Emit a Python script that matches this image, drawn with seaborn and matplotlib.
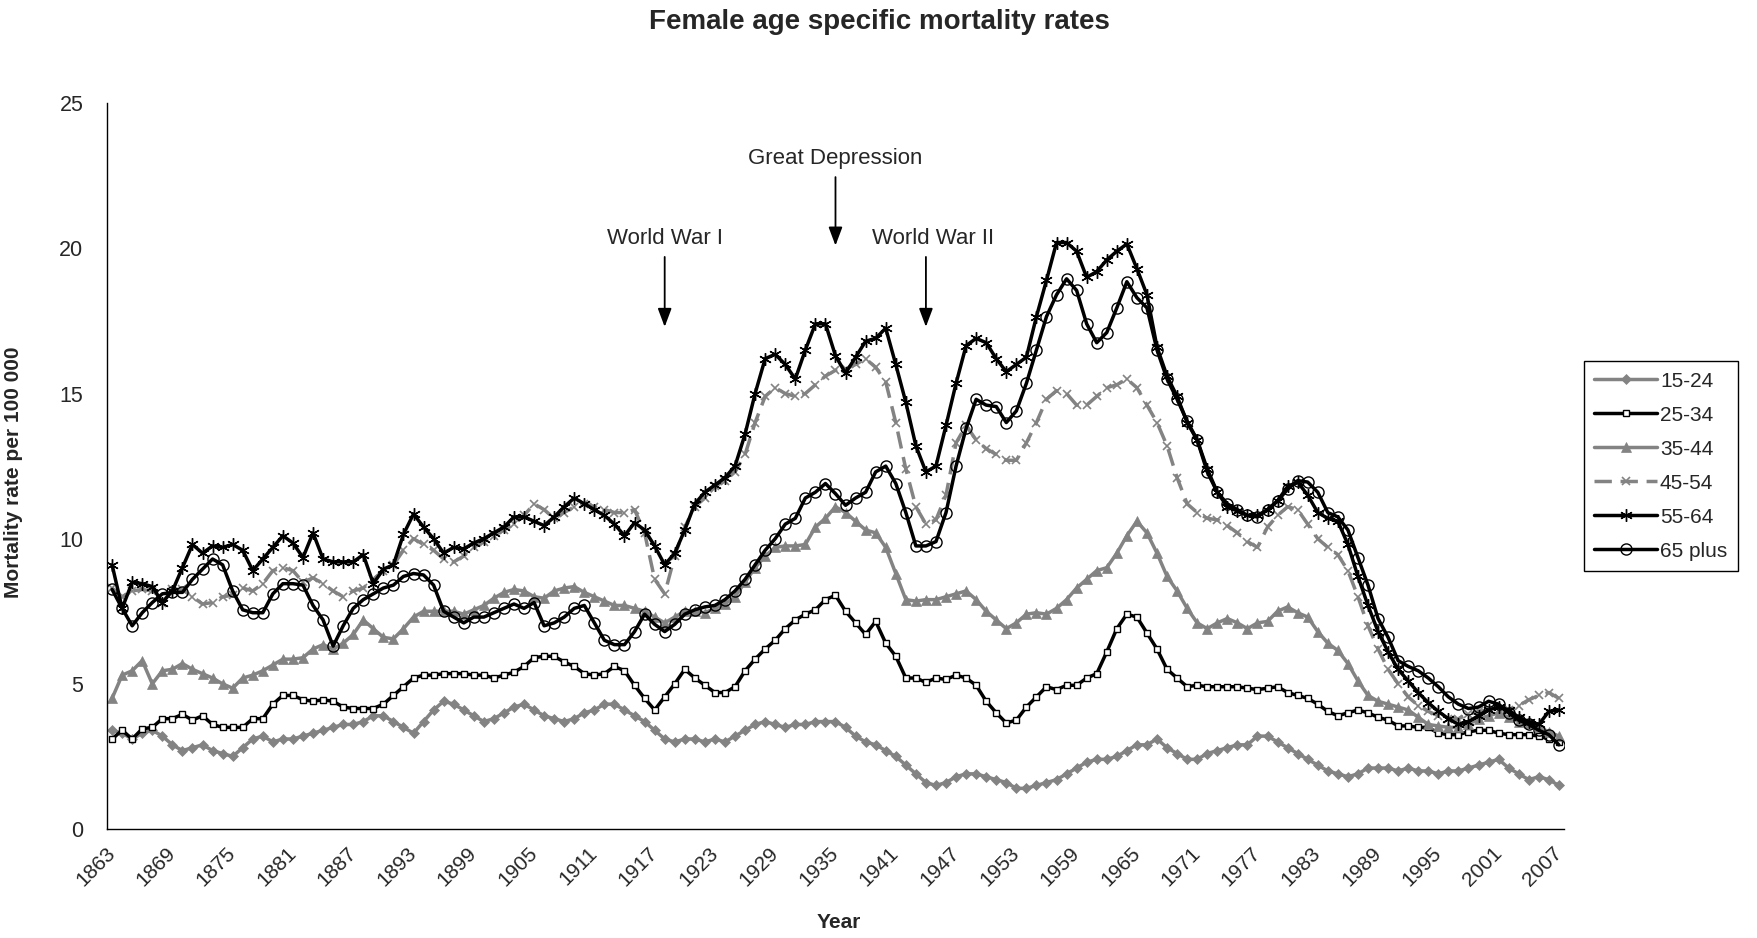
import numpy as np
import pandas as pd
import matplotlib
matplotlib.use('Agg')
import matplotlib.pyplot as plt
import seaborn as sns

OUTPUT_PNG = 'out.png'

# Years on the category axis
years = list(range(1863, 2008))
tick_years = list(range(1863, 2008, 6))

# Mortality rate per 100 000
rate_15_24 = [
    3.4, 3.3, 3.1, 3.3, 3.4, 3.2,
    2.9, 2.7, 2.8, 2.9, 2.7, 2.6,
    2.5, 2.8, 3.1, 3.2, 3.0, 3.1,
    3.1, 3.2, 3.3, 3.4, 3.5, 3.6,
    3.6, 3.7, 3.9, 3.9, 3.7, 3.5,
    3.3, 3.7, 4.1, 4.4, 4.3, 4.1,
    3.9, 3.7, 3.8, 4.0, 4.2, 4.3,
    4.1, 3.9, 3.8, 3.7, 3.8, 4.0,
    4.1, 4.3, 4.3, 4.1, 3.9, 3.7,
    3.4, 3.1, 3.0, 3.1, 3.1, 3.0,
    3.1, 3.0, 3.2, 3.4, 3.6, 3.7,
    3.6, 3.5, 3.6, 3.6, 3.7, 3.7,
    3.7, 3.5, 3.2, 3.0, 2.9, 2.7,
    2.5, 2.2, 1.9, 1.6, 1.5, 1.6,
    1.8, 1.9, 1.9, 1.8, 1.7, 1.6,
    1.4, 1.4, 1.5, 1.6, 1.7, 1.9,
    2.1, 2.3, 2.4, 2.4, 2.5, 2.7,
    2.9, 2.9, 3.1, 2.8, 2.6, 2.4,
    2.4, 2.6, 2.7, 2.8, 2.9, 2.9,
    3.2, 3.2, 3.0, 2.8, 2.6, 2.4,
    2.2, 2.0, 1.9, 1.8, 1.9, 2.1,
    2.1, 2.1, 2.0, 2.1, 2.0, 2.0,
    1.9, 2.0, 2.0, 2.1, 2.2, 2.3,
    2.4, 2.1, 1.9, 1.7, 1.8, 1.7,
    1.5,
]
rate_25_34 = [
    3.1, 3.4, 3.1, 3.45, 3.5, 3.8,
    3.8, 3.95, 3.75, 3.9, 3.6, 3.5,
    3.5, 3.5, 3.8, 3.8, 4.3, 4.6,
    4.6, 4.45, 4.4, 4.45, 4.4, 4.2,
    4.15, 4.15, 4.15, 4.3, 4.6, 4.9,
    5.2, 5.3, 5.3, 5.35, 5.35, 5.35,
    5.3, 5.3, 5.2, 5.3, 5.4, 5.6,
    5.9, 5.95, 5.95, 5.75, 5.6, 5.35,
    5.3, 5.35, 5.6, 5.45, 4.95, 4.5,
    4.1, 4.55, 5.0, 5.5, 5.2, 4.95,
    4.7, 4.7, 4.9, 5.45, 5.85, 6.2,
    6.5, 6.9, 7.2, 7.4, 7.55, 7.9,
    8.05, 7.5, 7.1, 6.7, 7.15, 6.4,
    5.95, 5.2, 5.2, 5.05, 5.2, 5.15,
    5.3, 5.2, 4.95, 4.4, 4.0, 3.65,
    3.75, 4.2, 4.55, 4.9, 4.8, 4.95,
    4.95, 5.2, 5.35, 6.1, 6.9, 7.4,
    7.3, 6.75, 6.2, 5.5, 5.2, 4.9,
    4.95, 4.9, 4.9, 4.9, 4.9, 4.85,
    4.8, 4.85, 4.9, 4.7, 4.6, 4.5,
    4.3, 4.05, 3.9, 4.0, 4.1, 4.0,
    3.85, 3.75, 3.55, 3.55, 3.5, 3.5,
    3.3, 3.25, 3.25, 3.35, 3.4, 3.4,
    3.3, 3.25, 3.25, 3.25, 3.2, 3.1,
    3.0,
]
rate_35_44 = [
    4.5, 5.3, 5.45, 5.8, 5.0, 5.45,
    5.5, 5.7, 5.5, 5.35, 5.2, 5.0,
    4.85, 5.2, 5.3, 5.45, 5.65, 5.85,
    5.85, 5.9, 6.2, 6.35, 6.2, 6.4,
    6.7, 7.2, 6.9, 6.6, 6.55, 6.9,
    7.3, 7.5, 7.5, 7.5, 7.5, 7.4,
    7.55, 7.7, 7.95, 8.15, 8.25, 8.2,
    8.0, 7.95, 8.2, 8.3, 8.35, 8.15,
    8.0, 7.85, 7.7, 7.7, 7.6, 7.5,
    7.3, 7.1, 7.3, 7.5, 7.5, 7.45,
    7.6, 7.75, 8.0, 8.5, 9.0, 9.4,
    9.7, 9.75, 9.75, 9.8, 10.4, 10.7,
    11.1, 10.9, 10.6, 10.3, 10.2, 9.7,
    8.8, 7.9, 7.85, 7.9, 7.9, 8.0,
    8.1, 8.2, 7.9, 7.5, 7.2, 6.9,
    7.1, 7.4, 7.45, 7.4, 7.6, 7.9,
    8.3, 8.6, 8.9, 9.0, 9.5, 10.1,
    10.6, 10.2, 9.5, 8.7, 8.2, 7.6,
    7.1, 6.9, 7.1, 7.25, 7.1, 6.9,
    7.1, 7.15, 7.5, 7.65, 7.45, 7.3,
    6.8, 6.4, 6.15, 5.7, 5.1, 4.6,
    4.4, 4.3, 4.2, 4.1, 3.85, 3.6,
    3.55, 3.5, 3.5, 3.6, 3.8, 3.9,
    4.0, 3.85, 3.7, 3.65, 3.5, 3.35,
    3.2,
]
rate_45_54 = [
    8.3, 8.0, 8.2, 8.25, 8.2, 7.8,
    8.25, 8.25, 8.0, 7.75, 7.8, 8.0,
    8.05, 8.3, 8.2, 8.45, 8.9, 9.0,
    8.9, 8.5, 8.65, 8.45, 8.2, 8.0,
    8.2, 8.3, 8.6, 8.9, 9.1, 9.6,
    10.0, 9.8, 9.6, 9.3, 9.2, 9.4,
    9.7, 9.9, 10.1, 10.3, 10.5, 10.8,
    11.2, 11.0, 10.7, 10.9, 11.1, 11.2,
    11.1, 11.0, 10.9, 10.9, 11.0, 10.2,
    8.6, 8.1, 9.4, 10.4, 11.1, 11.4,
    11.8, 12.0, 12.3, 12.9, 14.0, 14.9,
    15.2, 15.0, 14.9, 15.0, 15.3, 15.6,
    15.8, 15.85, 16.0, 16.2, 15.9, 15.4,
    14.0, 12.4, 11.1, 10.5, 10.65, 11.5,
    13.3, 13.9, 13.4, 13.1, 12.9, 12.7,
    12.7, 13.3, 14.0, 14.8, 15.1, 15.0,
    14.6, 14.6, 14.9, 15.2, 15.3, 15.5,
    15.2, 14.6, 14.0, 13.2, 12.1, 11.2,
    10.9, 10.7, 10.65, 10.45, 10.2, 9.9,
    9.7, 10.4, 10.8, 11.1, 11.0, 10.5,
    10.0, 9.7, 9.45, 8.9, 8.0, 7.0,
    6.2, 5.5, 5.0, 4.55, 4.25, 4.05,
    3.9, 3.8, 3.8, 3.95, 4.05, 4.1,
    4.1, 4.1, 4.25, 4.45, 4.6, 4.7,
    4.5,
]
rate_55_64 = [
    9.1, 7.6, 8.5, 8.45, 8.35, 7.8,
    8.2, 9.0, 9.8, 9.5, 9.75, 9.7,
    9.8, 9.6, 8.9, 9.3, 9.7, 10.1,
    9.85, 9.35, 10.2, 9.3, 9.2, 9.2,
    9.2, 9.45, 8.45, 8.95, 9.1, 10.15,
    10.85, 10.4, 10.0, 9.5, 9.7, 9.65,
    9.85, 10.0, 10.2, 10.4, 10.75, 10.75,
    10.6, 10.45, 10.75, 11.1, 11.4, 11.2,
    11.0, 10.8, 10.5, 10.1, 10.55, 10.3,
    9.75, 9.1, 9.5, 10.3, 11.2, 11.6,
    11.85, 12.1, 12.5, 13.6, 15.0, 16.2,
    16.35, 16.0, 15.5, 16.5, 17.4, 17.4,
    16.3, 15.7, 16.25, 16.8, 16.9, 17.25,
    16.0, 14.7, 13.2, 12.3, 12.5, 13.9,
    15.35, 16.65, 16.9, 16.75, 16.2, 15.75,
    16.0, 16.25, 17.65, 18.9, 20.2, 20.2,
    19.9, 19.0, 19.2, 19.6, 19.9, 20.15,
    19.3, 18.4, 16.6, 15.6, 14.9, 14.0,
    13.4, 12.4, 11.6, 11.1, 10.95, 10.8,
    10.8, 11.0, 11.3, 11.8, 11.95, 11.5,
    10.9, 10.7, 10.6, 9.8, 8.7, 7.7,
    6.8, 6.1, 5.5, 5.1, 4.7, 4.35,
    4.05, 3.8, 3.6, 3.7, 3.9, 4.1,
    4.2, 4.1, 3.85, 3.7, 3.6, 4.05,
    4.1,
]
rate_65_plus = [
    8.25, 7.6, 7.0, 7.45, 7.8, 8.1,
    8.15, 8.15, 8.6, 8.95, 9.3, 9.1,
    8.2, 7.55, 7.45, 7.45, 8.1, 8.45,
    8.45, 8.4, 7.7, 7.2, 6.3, 7.0,
    7.6, 7.9, 8.1, 8.3, 8.4, 8.7,
    8.8, 8.75, 8.4, 7.5, 7.3, 7.1,
    7.3, 7.3, 7.45, 7.6, 7.75, 7.6,
    7.8, 7.0, 7.1, 7.3, 7.6, 7.7,
    7.1, 6.5, 6.35, 6.35, 6.8, 7.4,
    7.05, 6.8, 7.05, 7.4, 7.55, 7.65,
    7.7, 7.9, 8.2, 8.6, 9.1, 9.6,
    10.0, 10.5, 10.7, 11.4, 11.6, 11.9,
    11.55, 11.15, 11.4, 11.6, 12.3, 12.5,
    11.9, 10.9, 9.75, 9.75, 9.9, 10.9,
    12.5, 13.8, 14.8, 14.6, 14.55, 14.0,
    14.4, 15.35, 16.5, 17.65, 18.4, 18.95,
    18.55, 17.4, 16.75, 17.1, 17.95, 18.85,
    18.3, 17.95, 16.5, 15.5, 14.8, 14.05,
    13.4, 12.3, 11.6, 11.2, 11.0, 10.8,
    10.75, 11.0, 11.3, 11.7, 12.0, 11.95,
    11.6, 10.9, 10.75, 10.3, 9.35, 8.4,
    7.25, 6.6, 5.8, 5.6, 5.45, 5.2,
    4.9, 4.55, 4.3, 4.15, 4.2, 4.4,
    4.3, 4.0, 3.75, 3.6, 3.4, 3.25,
    2.9,
]

series_names = ['15-24', '25-34', '35-44', '45-54', '55-64', '65 plus']
series_values = [rate_15_24, rate_25_34, rate_35_44, rate_45_54, rate_55_64, rate_65_plus]

# Events marked with arrows
event_labels = ['World War I', 'Great Depression', 'World War II']
event_years = [1918, 1935, 1944]
event_text_x = [1918, 1935, 1944.7]
event_text_y = [20.35, 23.1, 20.35]
event_arrow_start = [19.8, 22.55, 19.8]
event_arrow_tip = [17.2, 20.0, 17.2]

df = pd.concat(
    [pd.DataFrame({'Year': years, 'Rate': vals, 'Age': name})
     for name, vals in zip(series_names, series_values)],
    ignore_index=True)

GRAY = '#838383'
styles = {
    '15-24': dict(color=GRAY, marker='D', markersize=5, markerfacecolor=GRAY,
                  markeredgecolor=GRAY, markeredgewidth=0.5, linestyle='-'),
    '25-34': dict(color='black', marker='s', markersize=4.5, markerfacecolor='white',
                  markeredgecolor='black', markeredgewidth=1.0, linestyle='-'),
    '35-44': dict(color=GRAY, marker='^', markersize=7.5, markerfacecolor=GRAY,
                  markeredgecolor=GRAY, markeredgewidth=0.5, linestyle='-'),
    '45-54': dict(color=GRAY, marker='x', markersize=6, markerfacecolor=GRAY,
                  markeredgecolor=GRAY, markeredgewidth=1.2, linestyle=(0, (5, 2.5))),
    '55-64': dict(color='black', marker=(6, 2, 0), markersize=9, markerfacecolor='black',
                  markeredgecolor='black', markeredgewidth=1.0, linestyle='-'),
    '65 plus': dict(color='black', marker='o', markersize=8, markerfacecolor='none',
                    markeredgecolor='black', markeredgewidth=1.0, linestyle='-'),
}

sns.set_style('white')
plt.rcParams['font.family'] = ['Liberation Sans', 'DejaVu Sans']

fig = plt.figure(figsize=(17.58, 9.38), dpi=100)
ax = fig.add_axes([0.0609, 0.1162, 0.8287, 0.7738])

for name in series_names:
    sub = df[df['Age'] == name]
    sns.lineplot(data=sub, x='Year', y='Rate', ax=ax, errorbar=None,
                 linewidth=2.5, label=name, **styles[name])

# Axes: Excel-like category axis with tick marks between years
ax.set_xlim(1862.5, 2007.5)
ax.set_ylim(0, 25)
ax.set_yticks(np.arange(0, 26, 5))
ax.set_xticks(tick_years)
ax.set_xticklabels([str(y) for y in tick_years], rotation=45, ha='right',
                   va='center', rotation_mode='anchor', fontsize=15)
ax.set_xticks(np.arange(1862.5, 2008, 1), minor=True)
ax.tick_params(axis='x', which='major', length=0, pad=15)
ax.tick_params(axis='x', which='minor', length=5, width=0.8, color='black', direction='out')
ax.tick_params(axis='y', which='major', length=5, width=0.8, color='black',
               direction='out', labelsize=15.5, pad=12)
for side in ['top', 'right']:
    ax.spines[side].set_visible(False)
for side in ['left', 'bottom']:
    ax.spines[side].set_color('black')
    ax.spines[side].set_linewidth(1.0)

ax.set_xlabel('Year', fontsize=15, fontweight='bold')
ax.set_ylabel('Mortality rate per 100 000', fontsize=15, fontweight='bold')
ax.xaxis.set_label_coords(0.502, -0.116)
ax.yaxis.set_label_coords(-0.058, 0.492)

# Event annotations
for label, yr, tx, ty, y0, y1 in zip(event_labels, event_years, event_text_x,
                                     event_text_y, event_arrow_start, event_arrow_tip):
    ax.text(tx, ty, label, ha='center', va='center', fontsize=16)
    ax.annotate('', xy=(yr, y1), xytext=(yr, y0),
                arrowprops=dict(arrowstyle='-|>,head_length=0.8,head_width=0.3',
                                color='black', lw=1.3, mutation_scale=14))

fig.suptitle('Female age specific mortality rates', x=0.5, y=0.977, va='center',
             fontsize=20, fontweight='bold')

handles, labels = ax.get_legend_handles_labels()
leg = ax.legend(handles, labels, loc='upper left', bbox_to_anchor=(0.901, 0.615),
                bbox_transform=fig.transFigure, fontsize=15, frameon=True,
                fancybox=False, framealpha=1, edgecolor='black', handlelength=3.0,
                labelspacing=0.72, borderpad=0.5, handletextpad=0.15, borderaxespad=0)
leg.get_frame().set_linewidth(1.0)

fig.savefig(OUTPUT_PNG, dpi=100)
print(f"Chart saved to {OUTPUT_PNG}")
